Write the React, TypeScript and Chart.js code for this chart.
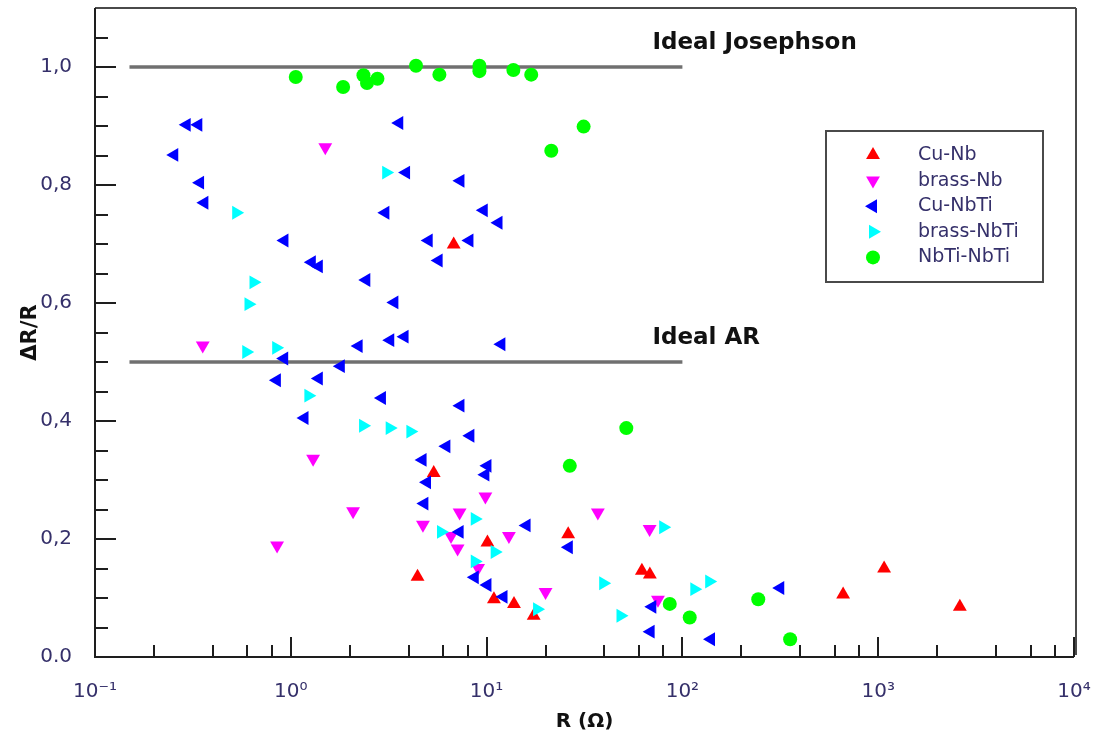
import React, { useEffect, useRef } from "react";
import { Chart, registerables } from "chart.js";
Chart.register(...registerables);

const seriesNames = ["Cu-Nb", "brass-Nb", "Cu-NbTi", "brass-NbTi", "NbTi-NbTi"];
const seriesColors = ["#ff0000", "#ff00ff", "#0000ff", "#00ffff", "#00ff00"];
const seriesShapes = ["triangle", "triangle", "triangle", "triangle", "circle"];
const seriesRotations = [0, 180, -90, 90, 0];

const cuNbR = [6.79, 5.37, 4.44, 10.1, 10.9, 13.8, 17.4, 26.1, 62.1, 68.2, 662, 1072, 2612];
const cuNbDR = [0.699, 0.312, 0.136, 0.194, 0.098, 0.09, 0.07, 0.208, 0.146, 0.14, 0.106, 0.15, 0.085];

const brassNbR = [1.5, 0.355, 1.3, 2.08, 0.851, 4.73, 7.28, 6.58, 7.11, 9.86, 13.0, 9.05, 20.0, 37.0, 68.0, 75.0];
const brassNbDR = [0.864, 0.528, 0.336, 0.247, 0.189, 0.224, 0.245, 0.205, 0.184, 0.272, 0.205, 0.151, 0.11, 0.245, 0.217, 0.097];

const cuNbTiR = [
  0.294, 0.337, 3.58, 0.254, 0.344, 0.362, 3.88, 7.35, 3.04, 9.67, 11.5, 0.928, 5.06, 8.17, 1.28, 1.39,
  5.69, 2.43, 3.38, 2.22, 3.22, 3.81, 0.925, 1.8, 0.849, 1.39, 2.92, 7.35, 1.175, 8.26, 6.23, 4.71,
  4.96, 10.1, 9.86, 4.81, 16.0, 7.28, 26.3, 8.7, 10.1, 12.2, 70.2, 68.8, 140, 316, 11.9,
];
const cuNbTiDR = [
  0.902, 0.902, 0.905, 0.851, 0.804, 0.77, 0.821, 0.807, 0.753, 0.757, 0.736, 0.706, 0.706, 0.706, 0.669, 0.662,
  0.672, 0.639, 0.601, 0.527, 0.537, 0.543, 0.506, 0.493, 0.469, 0.472, 0.439, 0.426, 0.405, 0.375, 0.357, 0.334,
  0.296, 0.324, 0.309, 0.26, 0.223, 0.212, 0.186, 0.135, 0.122, 0.102, 0.085, 0.043, 0.03, 0.117, 0.53,
];

const brassNbTiR = [3.07, 0.526, 0.645, 0.608, 0.592, 0.842, 1.23, 2.34, 3.2, 4.08, 5.85, 8.7, 8.7, 11.0, 18.1, 39.4, 48.3, 79.8, 115, 137];
const brassNbTiDR = [0.821, 0.753, 0.635, 0.598, 0.517, 0.524, 0.443, 0.392, 0.388, 0.382, 0.212, 0.234, 0.162, 0.178, 0.081, 0.125, 0.07, 0.22, 0.115, 0.128];

const nbTiNbTiR = [1.06, 1.85, 2.35, 2.45, 2.77, 4.36, 5.74, 9.19, 9.19, 13.7, 16.9, 21.4, 31.3, 26.6, 51.7, 86.2, 109, 244, 355];
const nbTiNbTiDR = [0.983, 0.966, 0.986, 0.973, 0.98, 1.002, 0.987, 1.002, 0.993, 0.995, 0.987, 0.858, 0.899, 0.324, 0.388, 0.09, 0.067, 0.098, 0.03];

const seriesR = [cuNbR, brassNbR, cuNbTiR, brassNbTiR, nbTiNbTiR];
const seriesDR = [cuNbDR, brassNbDR, cuNbTiDR, brassNbTiDR, nbTiNbTiDR];

const xTickValues = [0.1, 1, 10, 100, 1000, 10000];
const xTickLabels = ["10\u207B\u00B9", "10\u2070", "10\u00B9", "10\u00B2", "10\u00B3", "10\u2074"];
const yTickValues = [0, 0.2, 0.4, 0.6, 0.8, 1.0];
const yTickLabels = ["0.0", "0,2", "0,4", "0,6", "0,8", "1,0"];

const idealNames = ["Ideal Josephson", "Ideal AR"];
const idealValues = [1.0, 0.5];
const idealRange = [0.15, 100];

const xTitle = "R (\u03A9)";
const yTitle = "\u0394R/R";

const TICK_COLOR = "#35306a";
const FONT = "'DejaVu Sans', Verdana, sans-serif";
const TRI_R = 8;
const CIRC_R = 7;

const decorPlugin = {
  id: "decor",
  afterDraw(chart: any) {
    const { ctx, chartArea: a, scales } = chart;
    const xs = scales.x;
    const ys = scales.y;
    ctx.save();
    ctx.strokeStyle = "#4a4a4a";
    ctx.lineWidth = 2;
    ctx.beginPath();
    ctx.moveTo(a.left, a.top);
    ctx.lineTo(a.right + 2, a.top);
    ctx.moveTo(a.right + 2, a.top);
    ctx.lineTo(a.right + 2, a.bottom - 2);
    ctx.stroke();
    ctx.strokeStyle = "#1e1e1e";
    ctx.beginPath();
    ctx.moveTo(a.left, a.top);
    ctx.lineTo(a.left, a.bottom);
    ctx.lineTo(a.right, a.bottom);
    ctx.stroke();
    ctx.beginPath();
    for (let k = 1; k <= 21; k++) {
      const v = k * 0.05;
      const py = Math.round(ys.getPixelForValue(v));
      const len = k % 4 === 0 ? 21 : 13;
      ctx.moveTo(a.left, py);
      ctx.lineTo(a.left + len, py);
    }
    for (let d = -1; d <= 4; d++) {
      const base = Math.pow(10, d);
      const px = Math.round(xs.getPixelForValue(base));
      if (d > -1) {
        ctx.moveTo(px, a.bottom);
        ctx.lineTo(px, a.bottom - 20);
      }
      if (d < 4) {
        for (const m of [2, 4, 6, 8]) {
          const mx = Math.round(xs.getPixelForValue(base * m));
          ctx.moveTo(mx, a.bottom);
          ctx.lineTo(mx, a.bottom - 12);
        }
      }
    }
    ctx.stroke();

    ctx.fillStyle = "#111";
    ctx.font = "bold 23px " + FONT;
    ctx.textAlign = "left";
    ctx.textBaseline = "middle";
    idealNames.forEach((name, i) => {
      const px = xs.getPixelForValue(idealRange[1]) - 30;
      const py = ys.getPixelForValue(idealValues[i]) - 24;
      ctx.fillText(name, px, py);
    });

    ctx.font = "bold 20px " + FONT;
    ctx.textAlign = "center";
    ctx.fillText(xTitle, (a.left + a.right) / 2, 722);
    ctx.save();
    ctx.translate(31, (a.top + a.bottom) / 2);
    ctx.rotate(-Math.PI / 2);
    ctx.font = "bold 21px " + FONT;
    ctx.fillText(yTitle, 0, 0);
    ctx.restore();

    const lx = a.right - 248;
    const ly = 131;
    ctx.strokeStyle = "#4a4a4a";
    ctx.lineWidth = 2;
    ctx.strokeRect(lx, ly, 217, 151);
    ctx.font = "19px " + FONT;
    ctx.textAlign = "left";
    ctx.textBaseline = "middle";
    seriesNames.forEach((name, i) => {
      const cy = ly + 24 + i * 25.6;
      const cx = lx + 47;
      ctx.fillStyle = seriesColors[i];
      ctx.beginPath();
      if (seriesShapes[i] === "circle") {
        ctx.arc(cx, cy, CIRC_R, 0, Math.PI * 2);
      } else {
        let rad = (seriesRotations[i] * Math.PI) / 180;
        const r = TRI_R;
        ctx.moveTo(cx + Math.sin(rad) * r, cy - Math.cos(rad) * r);
        rad += (2 * Math.PI) / 3;
        ctx.lineTo(cx + Math.sin(rad) * r, cy - Math.cos(rad) * r);
        rad += (2 * Math.PI) / 3;
        ctx.lineTo(cx + Math.sin(rad) * r, cy - Math.cos(rad) * r);
        ctx.closePath();
      }
      ctx.fill();
      ctx.fillStyle = TICK_COLOR;
      ctx.fillText(name, lx + 92, cy);
    });
    ctx.restore();
  },
};

export default function App() {
  const ref = useRef<HTMLCanvasElement | null>(null);
  useEffect(() => {
    if (!ref.current) return;
    const pointSets = seriesNames.map((name, i) => ({
      label: name,
      data: seriesR[i].map((r, j) => ({ x: r, y: seriesDR[i][j] })),
      backgroundColor: seriesColors[i],
      borderColor: seriesColors[i],
      borderWidth: 0,
      pointStyle: seriesShapes[i],
      rotation: seriesRotations[i],
      pointRadius: seriesShapes[i] === "circle" ? CIRC_R : TRI_R,
      pointHoverRadius: TRI_R,
      showLine: false,
      order: 5 - i,
    }));
    const lineSets = idealNames.map((name, i) => ({
      label: name,
      data: idealRange.map((x) => ({ x, y: idealValues[i] })),
      borderColor: "#707070",
      backgroundColor: "#707070",
      borderWidth: 3.5,
      pointRadius: 0,
      showLine: true,
      order: 10,
    }));
    const chart = new Chart(ref.current, {
      type: "scatter",
      data: { datasets: [...pointSets, ...lineSets] as any },
      plugins: [decorPlugin],
      options: {
        animation: false,
        responsive: false,
        layout: { padding: { top: 5, right: 33, left: 0, bottom: 0 } },
        plugins: { legend: { display: false }, tooltip: { enabled: false } },
        scales: {
          x: {
            type: "logarithmic",
            min: 0.1,
            max: 10000,
            grid: { display: false, drawTicks: false },
            border: { display: false },
            afterBuildTicks: (s: any) => {
              s.ticks = xTickValues.map((v) => ({ value: v }));
            },
            afterFit: (s: any) => {
              s.height = 85;
              s.paddingLeft = 0;
              s.paddingRight = 0;
            },
            ticks: {
              autoSkip: false,
              maxRotation: 0,
              padding: 23,
              color: TICK_COLOR,
              font: { family: FONT, size: 20 },
              callback: (_v: any, i: number) => xTickLabels[i],
            },
          },
          y: {
            type: "linear",
            min: 0,
            max: 1.1,
            grid: { display: false, drawTicks: false },
            border: { display: false },
            afterBuildTicks: (s: any) => {
              s.ticks = yTickValues.map((v) => ({ value: v }));
            },
            afterFit: (s: any) => {
              s.width = 95;
              s.paddingTop = 0;
              s.paddingBottom = 0;
            },
            ticks: {
              padding: 23,
              color: TICK_COLOR,
              font: { family: FONT, size: 20 },
              callback: (_v: any, i: number) => yTickLabels[i],
            },
          },
        },
      } as any,
    });
    return () => chart.destroy();
  }, []);
  return (
    <div style={{ position: "fixed", left: 0, top: 0, width: 1107, height: 742, background: "#fff" }}>
      <canvas ref={ref} width={1107} height={742} style={{ width: 1107, height: 742, display: "block" }} />
    </div>
  );
}
